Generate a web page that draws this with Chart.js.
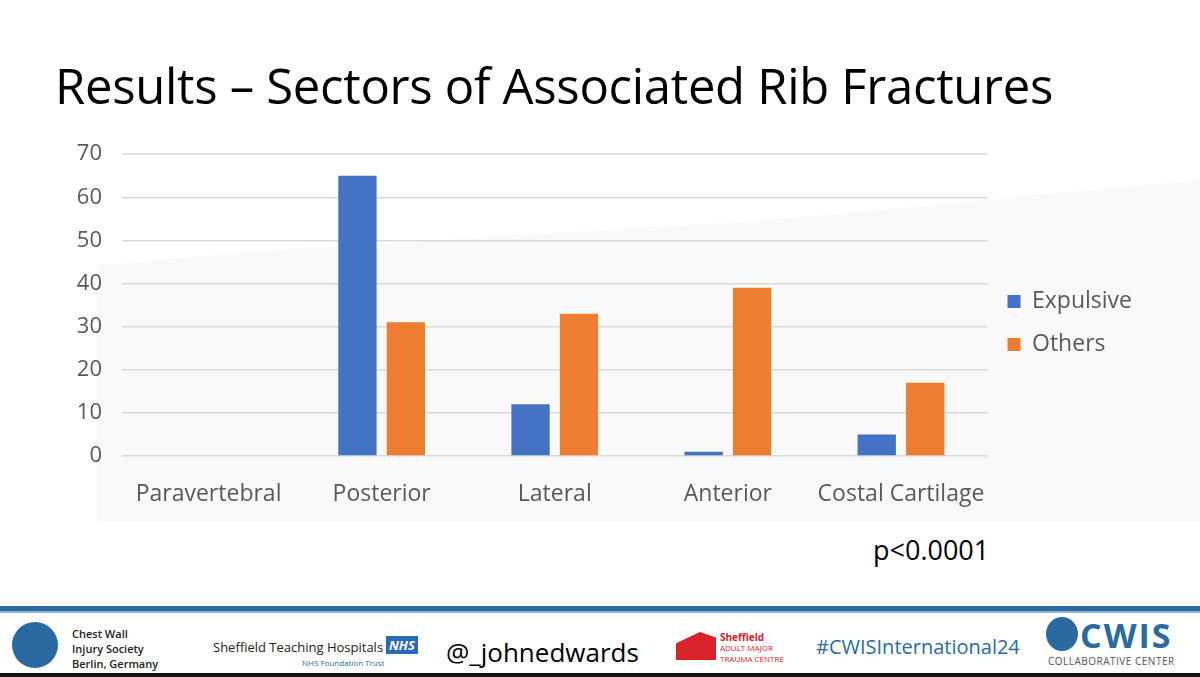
<!DOCTYPE html>
<html>
<head>
<meta charset="utf-8">
<script src="https://cdn.jsdelivr.net/npm/chart.js@4"></script>
<style>
  body { margin: 0; width: 1200px; height: 677px; background: #fff; position: relative; overflow: hidden; font-family: "Open Sans", sans-serif; }
  #wm { position: absolute; left: 97px; top: 180px; width: 1103px; height: 342px; background: #f9f9f9;
        clip-path: polygon(0 25%, 18% 20%, 60% 12%, 100% 0, 100% 100%, 0 100%); }
  h1 { position: absolute; left: 55px; top: 52px; margin: 0; font-weight: 400; font-size: 49px; color: #000; letter-spacing: -0.3px; }
  #wrap { position: absolute; left: 0; top: 121px; width: 1200px; height: 391px; }
  #pval { position: absolute; left: 873px; top: 531px; font-size: 27px; color: #000; }
  #bar1 { position: absolute; left: 0; top: 606px; width: 1200px; height: 5px; background: #2a6aa0; }
  #bar2 { position: absolute; left: 0; top: 611px; width: 1200px; height: 2px; background: #8fb8d8; }
  #bar3 { position: absolute; left: 0; top: 673px; width: 1200px; height: 4px; background: #111; }
  .ft { position: absolute; color: #222; }
</style>
</head>
<body>
<div id="wm"></div>
<h1>Results – Sectors of Associated Rib Fractures</h1>
<div id="wrap"><canvas id="mychart"></canvas></div>
<div id="pval">p&lt;0.0001</div>
<div id="bar1"></div><div id="bar2"></div><div id="bar3"></div>
<div class="ft" style="left:12px;top:622px;width:46px;height:46px;border-radius:50%;background:#2a6aa0;"></div>
<div class="ft" style="left:72px;top:626px;font-size:11px;line-height:15px;font-weight:600;">Chest Wall<br>Injury Society<br>Berlin, Germany</div>
<div class="ft" style="left:213px;top:638px;font-size:13px;">Sheffield Teaching Hospitals</div>
<div class="ft" style="left:386px;top:636px;font-size:13px;font-weight:700;font-style:italic;color:#fff;background:#2a6ab8;padding:0 3px;">NHS</div>
<div class="ft" style="left:302px;top:657px;font-size:8px;color:#2a6ab8;">NHS Foundation Trust</div>
<div class="ft" style="left:446px;top:634px;font-size:26px;color:#000;">@_johnedwards</div>
<div class="ft" style="left:676px;top:632px;width:40px;height:28px;background:#d8232a;clip-path:polygon(0 40%,60% 0,100% 20%,100% 100%,0 100%);"></div>
<div class="ft" style="left:720px;top:632px;font-size:10px;line-height:10px;color:#d8232a;font-weight:700;">Sheffield<br><span style="font-weight:400;font-size:8px;">ADULT MAJOR<br>TRAUMA CENTRE</span></div>
<div class="ft" style="left:816px;top:633px;font-size:20px;color:#2a6aa0;">#CWISInternational24</div>
<div class="ft" style="left:1046px;top:617px;width:32px;height:34px;border-radius:50%;background:#2a6aa0;"></div>
<div class="ft" style="left:1080px;top:612px;font-size:34px;font-weight:700;color:#2a6aa0;letter-spacing:2px;">CWIS</div>
<div class="ft" style="left:1048px;top:654px;font-size:10px;color:#555;letter-spacing:0.5px;">COLLABORATIVE CENTER</div>
<script>
// datos del grafico
const categorias = ['Paravertebral', 'Posterior', 'Lateral', 'Anterior', 'Costal Cartilage'];
const expulsive = [0, 65, 12, 1, 5];
const others = [0, 31, 33, 39, 17];
const yTicks = [0, 10, 20, 30, 40, 50, 60, 70];

const ctx = document.getElementById('mychart');

const mychart = new Chart(ctx, {
    type: 'bar',
    data: {
        labels: categorias,
        datasets: [{
            label: 'Expulsive',
            data: expulsive,
            backgroundColor: '#4472C4',
            categoryPercentage: 0.56,
            barPercentage: 0.79
        },
        {
            label: 'Others',
            data: others,
            backgroundColor: '#ED7D31',
            categoryPercentage: 0.56,
            barPercentage: 0.79
        }]
    },
    options: {
        responsive: true,
        maintainAspectRatio: false,
        animation: false,
        layout: { padding: { top: 13, right: 58 } },
        plugins: {
            tooltip: { enabled: false },
            legend: {
                position: 'right',
                labels: {
                    boxWidth: 13,
                    boxHeight: 13,
                    padding: 20,
                    color: '#595959',
                    font: { family: 'Open Sans', size: 23 }
                }
            }
        },
        scales: {
            x: {
                grid: { display: false },
                border: { display: false },
                ticks: { color: '#595959', font: { family: 'Open Sans', size: 23 }, padding: 17, maxRotation: 0 },
                afterFit: (s) => { s.height = 56; }
            },
            y: {
                min: 0,
                max: 70,
                afterBuildTicks: (s) => { s.ticks = yTicks.map(v => ({ value: v })); },
                grid: { color: '#d9d9d9', lineWidth: 1.5, drawTicks: false },
                border: { display: false },
                ticks: { color: '#595959', font: { family: 'Open Sans', size: 22 }, padding: 20 },
                afterFit: (s) => { s.width = 122; }
            }
        }
    }
});
</script>
</body>
</html>
